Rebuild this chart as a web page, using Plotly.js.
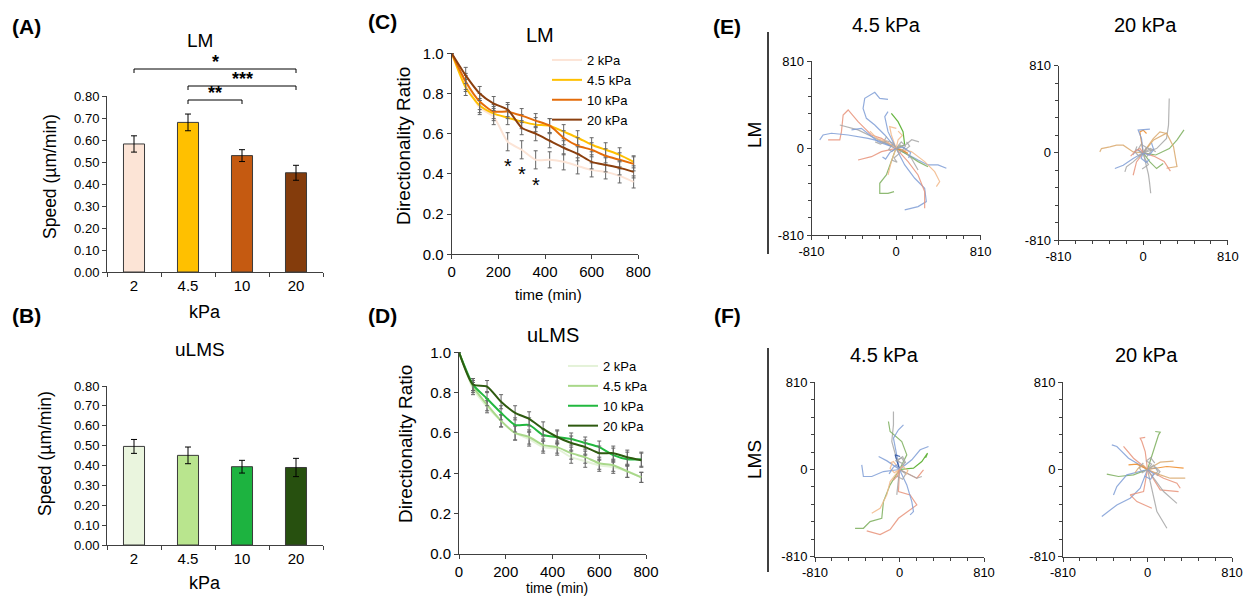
<!DOCTYPE html>
<html><head><meta charset="utf-8">
<script src="https://cdn.plot.ly/plotly-3.0.1.min.js"></script>
<style>html,body{margin:0;padding:0;background:#fff}#chart{width:1250px;height:597px}</style>
</head><body><div id="chart"></div>
<script>
// ---------- DATA ----------
const stiffness = ['2', '4.5', '10', '20'];
const lmSpeed = [0.582, 0.680, 0.529, 0.451];
const lmSpeedErr = [0.037, 0.038, 0.027, 0.034];
const ulmsSpeed = [0.496, 0.451, 0.394, 0.390];
const ulmsSpeedErr = [0.035, 0.042, 0.032, 0.046];
const sigFrom = [0, 1, 1];
const sigTo = [3, 3, 2];
const sigLabels = ['*', '***', '**'];

const seriesNames = ['2 kPa', '4.5 kPa', '10 kPa', '20 kPa'];
const timeMin = [0, 60, 120, 180, 240, 300, 360, 420, 480, 540, 600, 660, 720, 780];
const lmDir2 = [1.0, 0.85, 0.73, 0.685, 0.56, 0.52, 0.47, 0.47, 0.46, 0.44, 0.42, 0.41, 0.39, 0.36];
const lmDir45 = [1.0, 0.83, 0.74, 0.70, 0.68, 0.66, 0.645, 0.64, 0.61, 0.58, 0.545, 0.52, 0.495, 0.46];
const lmDir10 = [1.0, 0.86, 0.76, 0.71, 0.71, 0.69, 0.665, 0.64, 0.58, 0.54, 0.52, 0.49, 0.47, 0.45];
const lmDir20 = [1.0, 0.89, 0.80, 0.75, 0.72, 0.63, 0.60, 0.565, 0.53, 0.50, 0.46, 0.445, 0.43, 0.41];
const lmErr2 = [0, 0.04, 0.035, 0.04, 0.045, 0.045, 0.045, 0.04, 0.04, 0.04, 0.035, 0.035, 0.035, 0.03];
const lmErr45 = [0, 0.04, 0.035, 0.035, 0.035, 0.035, 0.035, 0.035, 0.035, 0.035, 0.035, 0.035, 0.035, 0.03];
const lmErr10 = [0, 0.04, 0.04, 0.035, 0.035, 0.035, 0.035, 0.035, 0.035, 0.04, 0.035, 0.035, 0.035, 0.035];
const lmErr20 = [0, 0.04, 0.035, 0.035, 0.035, 0.035, 0.035, 0.035, 0.035, 0.035, 0.035, 0.035, 0.035, 0.03];
const lmSigTime = [240, 300, 360];
const lmSigY = [0.44, 0.40, 0.345];

const ulmsDir2 = [1.0, 0.82, 0.73, 0.66, 0.60, 0.57, 0.53, 0.52, 0.48, 0.46, 0.44, 0.43, 0.41, 0.38];
const ulmsDir45 = [1.0, 0.83, 0.74, 0.66, 0.60, 0.58, 0.54, 0.53, 0.50, 0.48, 0.45, 0.44, 0.41, 0.38];
const ulmsDir10 = [1.0, 0.84, 0.77, 0.70, 0.64, 0.64, 0.59, 0.58, 0.57, 0.55, 0.53, 0.49, 0.47, 0.47];
const ulmsDir20 = [1.0, 0.84, 0.83, 0.755, 0.70, 0.67, 0.62, 0.58, 0.55, 0.53, 0.50, 0.50, 0.48, 0.465];
const ulmsErr2 = [0, 0.03, 0.03, 0.03, 0.035, 0.035, 0.03, 0.03, 0.03, 0.03, 0.03, 0.03, 0.03, 0.025];
const ulmsErr45 = [0, 0.03, 0.03, 0.03, 0.035, 0.035, 0.03, 0.03, 0.03, 0.03, 0.03, 0.03, 0.03, 0.025];
const ulmsErr10 = [0, 0.03, 0.035, 0.035, 0.035, 0.035, 0.03, 0.03, 0.03, 0.03, 0.03, 0.035, 0.035, 0.035];
const ulmsErr20 = [0, 0.03, 0.03, 0.035, 0.035, 0.035, 0.035, 0.035, 0.035, 0.035, 0.035, 0.035, 0.035, 0.035];

// cell trajectories (µm), origin-centred
const lm45X = [[0,-108,-204,-284,-316,-300,-204,-156,-77],[0,-140,-236,-364,-459,-507,-523,-539,-651],[0,-140,-268,-459,-619,-699,-731],[0,115,211,306,402,482],[0,83,67,19,-45],[0,-45,-93,-156,-156,-77,-19],[0,83,179,274,290,211,83],[0,115,211,274,274],[0,147,274,370,418,386],[0,-140,-236,-364],[0,-204,-364,-539],[0,115,211,306],[0,-172,-332,-427],[0,-45,-61,3],[0,83,147,211],[0,51,115],[0,-77,-108,-77],[0,-45,-77],[0,-60,-120,-90],[0,50,90,40],[0,-90,-180,-250],
  [0,40,90,130,100],[0,-40,-70,-30],[0,70,140,120],[0,-30,-90,-150,-200],[0,20,60,20],[0,90,150,220],[0,-60,-100,-130],[0,30,-20,10,-40]];
const lm45Y = [[0,124,217,279,372,465,521,465,456],[0,93,124,248,357,310,155,78,78],[0,62,93,124,140,124,78],[0,-62,-109,-155,-155,-186],[0,31,155,248,326],[0,-124,-248,-326,-419,-419,-403],[0,-155,-279,-372,-496,-543,-574],[0,-124,-248,-403,-558],[0,-31,-124,-217,-310,-357],[0,-31,-78,-109],[0,93,171,217],[0,-62,-124,-171],[0,62,186,171],[0,124,202,186],[0,-31,-93,-202],[0,-16,-47],[0,155,295,341],[0,-124,-248],[0,40,60,110],[0,60,20,-40],[0,60,90,160],
  [0,30,-10,20,60],[0,-30,-10,40],[0,10,-40,-90],[0,50,70,40,60],[0,80,120,160],[0,30,80,60],[0,-40,-100,-80],[0,-50,-90,-130,-110]];
const lm45C = ['blue','salmon','blue','blue','lime','green','blue','salmon','peach','salmon','gray','green','blue','peach','gray','orange','blue','peach','gray','gray','peach',
  'gray','gray','blue','gray','peach','gray','blue','gray'];

const lm20X = [[0,-96,-191,-255,-319,-399,-415],[0,128,223,242,249],[0,120,250,324,390],[0,100,223,290,323,223],[0,50,60,72],[0,-96,-191,-271],[0,-16,-32,0,32],[0,-16,-48,64],[0,-64,-96],[0,64,128,191],[0,-96,-160,-175],[0,100,200,260],[0,96,160,223],[0,40,80,30],[0,-60,-100],
  [0,30,-20,-50,10],[0,-40,-80,-60],[0,60,100,80],[0,-30,-70,-120],[0,20,50,-10],[0,70,120],[0,-20,30,60]];
const lm20Y = [[0,9,71,71,56,40,9],[0,40,133,257,505],[0,-20,40,120,213],[0,120,183,58,-128,-143],[0,-200,-270,-375],[0,-53,-115,-146],[0,102,195,211,180],[0,133,211,220],[0,-84,-208],[0,-84,-146,-99],[0,-84,-130,-177],[0,-30,-80,-170],[0,133,195,180],[0,50,20,-40],[0,30,-20],
  [0,50,80,30,-20],[0,-30,10,60],[0,-20,30,90],[0,40,20,-30],[0,-60,-110,-150],[0,40,10],[0,-50,-90,-60]];
const lm20C = ['tan','gray','green','tan','gray','blue','orange','blue','salmon','green','gray','salmon','tan','gray','blue',
  'gray','gray','blue','salmon','gray','gray','blue'];

const lms45X = [[0,-42,-74,-58,-58],[0,70,22,-90,-106],[0,-58,-10,38],[0,134,214,246,269,250],[0,118,198,278],[0,-26,-42,6],[0,-154,-266,-346,-362],[0,-90,-154,-170,-282,-346,-426],[0,-10,102,166,-10,-90,-186,-314],[0,-90,-122,-186,-266],[0,70,118,134,102],[0,102,166,230],[0,-10,-26],[0,-58,-90],[0,166,214],[0,-120,-200],[0,50,20,-40],
  [0,40,-20,30,60],[0,-50,-90,-70],[0,60,30,-30],[0,-30,-60,-100],[0,30,80,60],[0,-20,-60]];
const lms45Y = [[0,136,260,415,539],[0,136,260,353,446],[0,291,369,415],[0,12,74,121,152,110],[0,90,183,214],[0,100,136,121],[0,-19,-65,-65,43],[0,-143,-298,-453,-484,-546,-546],[0,-205,-236,-329,-453,-558,-605,-570],[0,-112,-236,-360,-406],[0,-143,-298,-391,-422],[0,-50,-81,-3],[0,-112,-236],[0,74,59],[0,-81,-65],[0,80,120],[0,60,110,80],
  [0,50,80,120,60],[0,-30,10,60],[0,-40,-90,-60],[0,40,20,-40],[0,30,-10,-50],[0,-60,-100]];
const lms45C = ['gray','green','blue','lime','blue','navy','blue','green','salmon','peach','blue','salmon','gray','peach','gray','blue','gray',
  'gray','peach','gray','blue','peach','salmon'];

const lms20X = [[0,-70,-166,-294,-438],[0,42,74,106,122,74],[0,-22,-54,-70,-22],[0,-182,-262,-294,-342],[0,-134,-278,-390],[0,-198,-294,-326],[0,-38,-166,-102,42],[0,58,90,186],[0,186,346],[0,154,282,314],[0,122,298],[0,154,282],[0,122,250],[0,-134,-230],[0,-102,-182],[0,122,218,362],[0,60,100,40],
  [0,40,-10,30,70],[0,-50,-80,-40],[0,60,30,-30],[0,-40,-90,-120],[0,80,120,90]];
const lms20Y = [[0,-174,-267,-329,-437],[0,136,229,322,347,353],[0,167,260,291,298],[0,105,183,214,229],[0,-50,-65,-43],[0,-50,-158,-236],[0,-205,-236,-298,-360],[0,-236,-391,-546],[0,28,12],[0,-81,-127,-174],[0,-189,-205],[0,-205,-315],[0,68,78],[0,105,214],[0,50,43],[0,-50,-81,-81],[0,40,-20,-60],
  [0,50,80,110,60],[0,-30,20,60],[0,-40,-90,-60],[0,40,10,-30],[0,20,-20,-60]];
const lms20C = ['blue','green','salmon','blue','green','blue','salmon','gray','orange','salmon','salmon','gray','tan','salmon','orange','tan','gray',
  'gray','gray','blue','tan','gray'];

const trajTicks = [-810, 0, 810];

// ---------- STYLE ----------
const FONT = 'Liberation Sans, Arial, sans-serif';
const W = 1250, H = 597;
const px = v => v / W;
const py = v => 1 - v / H;
const lmBarColors = ['#FCE4D6', '#FFC000', '#C55A11', '#843C0C'];
const ulmsBarColors = ['#EAF5DE', '#B9E58E', '#1DB340', '#27500F'];
const lmLineColors = ['#FCE4D6', '#FFC000', '#E46C0A', '#8B3F0E'];
const ulmsLineColors = ['#E4F2D8', '#A9D88A', '#22B83F', '#2E5A10'];
const trackPalette = {blue:'#7F9ED6', salmon:'#E8937A', peach:'#F2B98A', green:'#7BAE5C', lime:'#4CA81F', gray:'#A6A6A6', orange:'#EE8A25', navy:'#2F55A4', tan:'#D9A86C'};

const traces = [];
// Bars
traces.push({type:'bar', x:stiffness, y:lmSpeed, xaxis:'x', yaxis:'y', width:0.39,
  marker:{color:lmBarColors, line:{color:'#3a3a3a', width:1}},
  error_y:{type:'data', array:lmSpeedErr, color:'#000', thickness:1, width:3}, showlegend:false, hoverinfo:'skip'});
traces.push({type:'bar', x:stiffness, y:ulmsSpeed, xaxis:'x2', yaxis:'y2', width:0.39,
  marker:{color:ulmsBarColors, line:{color:'#3a3a3a', width:1}},
  error_y:{type:'data', array:ulmsSpeedErr, color:'#000', thickness:1, width:3}, showlegend:false, hoverinfo:'skip'});

// Directionality
const lmSeries = [lmDir2, lmDir45, lmDir10, lmDir20];
const lmErrs = [lmErr2, lmErr45, lmErr10, lmErr20];
const ulmsSeries = [ulmsDir2, ulmsDir45, ulmsDir10, ulmsDir20];
const ulmsErrs = [ulmsErr2, ulmsErr45, ulmsErr10, ulmsErr20];
lmSeries.forEach((s, i) => traces.push({type:'scatter', mode:'lines', x:timeMin, y:s, xaxis:'x3', yaxis:'y3',
  name:seriesNames[i], legend:'legend', line:{color:lmLineColors[i], width:2, shape:'spline', smoothing:0.6},
  error_y:{type:'data', array:lmErrs[i], color:'#666', thickness:1, width:2}, hoverinfo:'skip'}));
ulmsSeries.forEach((s, i) => traces.push({type:'scatter', mode:'lines', x:timeMin, y:s, xaxis:'x4', yaxis:'y4',
  name:seriesNames[i], legend:'legend2', line:{color:ulmsLineColors[i], width:2, shape:'spline', smoothing:0.6},
  error_y:{type:'data', array:ulmsErrs[i], color:'#666', thickness:1, width:2}, hoverinfo:'skip'}));

// Trajectories
function addTracks(X, Y, C, xa, ya) {
  X.forEach((xs, i) => traces.push({type:'scatter', mode:'lines', x:xs, y:Y[i], xaxis:xa, yaxis:ya,
    line:{color:trackPalette[C[i]], width:1.2}, opacity:0.85, showlegend:false, hoverinfo:'skip'}));
}
addTracks(lm45X, lm45Y, lm45C, 'x5', 'y5');
addTracks(lm20X, lm20Y, lm20C, 'x6', 'y6');
addTracks(lms45X, lms45Y, lms45C, 'x7', 'y7');
addTracks(lms20X, lms20Y, lms20C, 'x8', 'y8');

// ---------- AXES ----------
const axCol = '#404040';
function barX(dom, anchor) {
  return {domain:dom, anchor:anchor, type:'category', range:[-0.5, 3.5], tickson:'boundaries',
    ticks:'outside', ticklen:4, tickcolor:axCol, showline:true, linecolor:axCol, linewidth:1,
    showgrid:false, tickfont:{size:15, color:'#000'}, fixedrange:true};
}
function barY(dom, anchor) {
  return {domain:dom, anchor:anchor, range:[0, 0.8], dtick:0.1, tickformat:'.2f', ticks:'outside',
    ticklen:4, tickcolor:axCol, showline:true, linecolor:axCol, linewidth:1, showgrid:false,
    zeroline:false, tickfont:{size:13, color:'#000'}, fixedrange:true};
}
function timeX(dom, anchor) {
  return {domain:dom, anchor:anchor, range:[0, 800], dtick:200, ticks:'outside', ticklen:4,
    tickcolor:axCol, showline:true, linecolor:axCol, showgrid:false, zeroline:false,
    tickfont:{size:15, color:'#000'}, fixedrange:true};
}
function ratioY(dom, anchor) {
  return {domain:dom, anchor:anchor, range:[0, 1], dtick:0.2, tickformat:'.1f', ticks:'outside',
    ticklen:4, tickcolor:axCol, showline:true, linecolor:axCol, showgrid:false, zeroline:false,
    tickfont:{size:15, color:'#000'}, fixedrange:true};
}
function trajAx(dom, anchor) {
  return {domain:dom, anchor:anchor, range:[-810, 810], tickvals:trajTicks, ticktext:trajTicks.map(String),
    ticks:'outside', ticklen:4, tickcolor:axCol, showline:true, linecolor:axCol, showgrid:false,
    zeroline:false, tickfont:{size:13, color:'#000'}, fixedrange:true,
    minor:{tick0:-810, dtick:162, ticks:'outside', ticklen:3, tickcolor:axCol, showgrid:false}};
}

const layout = {
  width:W, height:H, margin:{l:0, r:0, t:0, b:0}, paper_bgcolor:'#fff', plot_bgcolor:'rgba(0,0,0,0)',
  font:{family:FONT, color:'#000'}, bargap:0.6, showlegend:true,
  xaxis: barX([px(107), px(323)], 'y'),
  yaxis: barY([py(272), py(96)], 'x'),
  xaxis2: barX([px(107), px(323)], 'y2'),
  yaxis2: barY([py(545), py(386)], 'x2'),
  xaxis3: timeX([px(451.7), px(638.3)], 'y3'),
  yaxis3: ratioY([py(254.3), py(53.3)], 'x3'),
  xaxis4: timeX([px(459), px(646)], 'y4'),
  yaxis4: ratioY([py(554), py(352.3)], 'x4'),
  xaxis5: trajAx([px(811.5), px(980.6)], 'y5'),
  yaxis5: trajAx([py(235.3), py(61.3)], 'x5'),
  xaxis6: trajAx([px(1058.5), px(1227.9)], 'y6'),
  yaxis6: trajAx([py(240), py(65.7)], 'x6'),
  xaxis7: trajAx([px(815), px(984)], 'y7'),
  yaxis7: trajAx([py(556.7), py(382.3)], 'x7'),
  xaxis8: trajAx([px(1063), px(1232)], 'y8'),
  yaxis8: trajAx([py(556.7), py(382.3)], 'x8'),
  legend:{x:px(547), y:py(45), xanchor:'left', yanchor:'top', bgcolor:'rgba(0,0,0,0)', borderwidth:0,
    font:{size:13, color:'#000'}, itemwidth:30, tracegroupgap:0},
  legend2:{x:px(563), y:py(351), xanchor:'left', yanchor:'top', bgcolor:'rgba(0,0,0,0)', borderwidth:0,
    font:{size:13, color:'#000'}, itemwidth:30, tracegroupgap:0},
  annotations:[], shapes:[]
};

function txt(text, x, y, size, opts) {
  layout.annotations.push(Object.assign({text:text, x:px(x), y:py(y), xref:'paper', yref:'paper',
    xanchor:'center', yanchor:'middle', showarrow:false, font:{size:size, color:'#000', family:FONT}}, opts || {}));
}
// panel letters
txt('<b>(A)</b>', 26, 27, 21); txt('<b>(B)</b>', 26, 315, 21);
txt('<b>(C)</b>', 382, 22, 21); txt('<b>(D)</b>', 382, 315, 21);
txt('<b>(E)</b>', 727, 26, 21); txt('<b>(F)</b>', 727, 315, 21);
// titles
txt('LM', 200, 40, 19); txt('uLMS', 200, 349, 19);
txt('LM', 540, 35, 20); txt('uLMS', 553, 335, 20);
txt('4.5 kPa', 886, 25, 20); txt('20 kPa', 1145.5, 25, 20);
txt('4.5 kPa', 884, 355, 20); txt('20 kPa', 1146.5, 355, 20);
// axis titles
txt('Speed (µm/min)', 50, 177, 17.5, {textangle:-90});
txt('Speed (µm/min)', 45, 454, 17.5, {textangle:-90});
txt('kPa', 205, 312, 18); txt('kPa', 205, 583, 18);
txt('Directionality Ratio', 403, 146, 19, {textangle:-90});
txt('Directionality Ratio', 405, 444, 19, {textangle:-90});
txt('time (min)', 548, 294, 15); txt('time (min)', 557, 588, 14);
txt('LM', 754, 135, 19, {textangle:-90}); txt('LMS', 754, 460, 19, {textangle:-90});

// significance stars on C
lmSigTime.forEach((t, i) => layout.annotations.push({text:'*', x:t, y:lmSigY[i], xref:'x3', yref:'y3',
  showarrow:false, xanchor:'center', yanchor:'middle', font:{size:20, color:'#000', family:FONT}}));

// significance brackets on A
const bracketY = [69, 86, 100];
const tickDrop = 4;
sigFrom.forEach((a, i) => {
  const b = sigTo[i], yt = py(bracketY[i]), yb = py(bracketY[i] + tickDrop);
  const ln = {color:'#000', width:1};
  layout.shapes.push({type:'line', xref:'x', yref:'paper', x0:a, x1:b, y0:yt, y1:yt, line:ln});
  layout.shapes.push({type:'line', xref:'x', yref:'paper', x0:a, x1:a, y0:yt, y1:yb, line:ln});
  layout.shapes.push({type:'line', xref:'x', yref:'paper', x0:b, x1:b, y0:yt, y1:yb, line:ln});
  layout.annotations.push({text:'<b>' + sigLabels[i] + '</b>', x:(a + b) / 2, y:yt, xref:'x', yref:'paper',
    yanchor:'bottom', xanchor:'center', yshift:-5, showarrow:false, font:{size:18, color:'#000', family:FONT}});
});
// row separator lines for E / F
layout.shapes.push({type:'line', xref:'paper', yref:'paper', x0:px(768), x1:px(768), y0:py(32), y1:py(254), line:{color:'#000', width:1.5}});
layout.shapes.push({type:'line', xref:'paper', yref:'paper', x0:px(768), x1:px(768), y0:py(348), y1:py(572), line:{color:'#000', width:1.5}});

Plotly.newPlot('chart', traces, layout, {displayModeBar:false, staticPlot:true});
</script></body></html>
